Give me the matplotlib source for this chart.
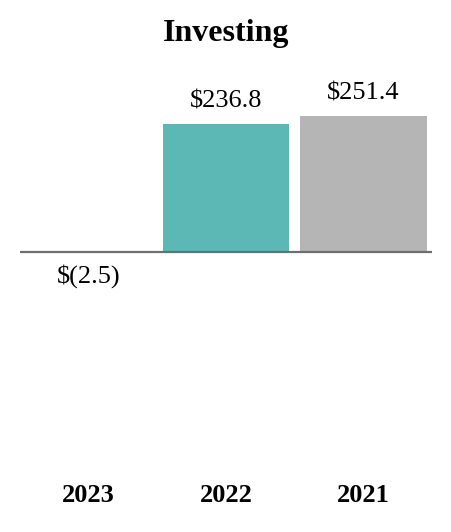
import matplotlib
matplotlib.use("Agg")
import matplotlib.pyplot as plt

years = ["2023", "2022", "2021"]
values = [-2.5, 236.8, 251.4]
labels = ["$(2.5)", "$236.8", "$251.4"]
colors = ["#5BB8B4", "#5BB8B4", "#B5B5B5"]

plt.rcParams["font.family"] = ["Liberation Serif", "DejaVu Serif"]

W, H = 452, 532
fig = plt.figure(figsize=(W / 100, H / 100), dpi=100)
# axes placed in pixel terms: left 20, right 432, top 70, bottom 480
ax = fig.add_axes([20 / W, 1 - 480 / H, 412 / W, 410 / H])

x = range(len(years))
ax.bar(x, values, width=0.92, color=colors, zorder=2)
ax.axhline(0, color="#6E6E6E", linewidth=1.6, zorder=3)

ax.set_xlim(-0.5, 2.5)
ax.set_ylim(-421.4, 336.4)

for i, (v, lab) in enumerate(zip(values, labels)):
    if v >= 0:
        ax.annotate(lab, (i, v), xytext=(0, 12), textcoords="offset points",
                    ha="center", va="baseline", fontsize=19)
    else:
        ax.annotate(lab, (i, 0), xytext=(0, -9), textcoords="offset points",
                    ha="center", va="top", fontsize=19)

ax.set_xticks(list(x))
ax.set_xticklabels(years, fontsize=19, fontweight="bold")
ax.tick_params(axis="x", length=0, pad=3)
ax.set_yticks([])
for s in ax.spines.values():
    s.set_visible(False)

fig.text(0.5, 1 - 33 / H, "Investing", ha="center", va="center",
         fontsize=23, fontweight="bold")

fig.savefig("out.png", dpi=100)
